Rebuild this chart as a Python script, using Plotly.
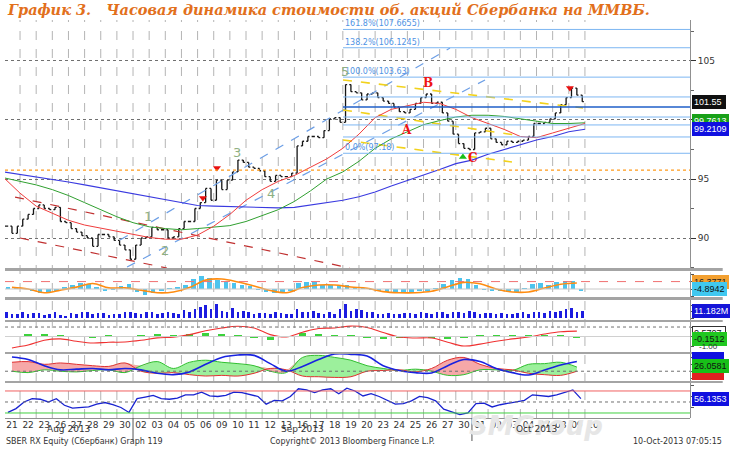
import numpy as np
import plotly.graph_objects as go
from plotly.subplots import make_subplots

# trading days shown on the time axis (hourly chart, SBER RX)
day_labels = ['21', '22', '23', '26', '27', '28', '29', '30',
              '02', '03', '04', '05', '06', '09', '10', '11', '12', '13',
              '16', '17', '18', '19', '20', '23', '24', '25', '26', '27', '30',
              '01', '02', '03', '04', '07', '08', '09', '10']
month_labels = ['Aug 2013', 'Sep 2013', 'Oct 2013']
month_first_day = [0, 8, 29]

# price, three readings per trading day
close = [
    91.0, 90.4, 91.0,  91.6, 92.0, 92.5,  92.8, 92.5, 92.4,  92.6, 91.4, 91.3,
    90.8, 90.5, 90.2,  90.0, 89.3, 90.3,  90.3, 90.1, 89.8,  89.4, 89.0, 88.2,
    89.4, 90.0, 90.1,  90.9, 90.7, 90.7,  90.0, 90.1, 90.8,  91.4, 91.4, 92.5,
    93.0, 94.2, 93.2,  94.9, 94.1, 94.9,  95.6, 96.6, 96.4,  96.0, 95.9, 95.7,
    95.2, 94.8, 95.3,  95.2, 95.2, 95.5,  97.8, 98.2, 98.6,  98.6, 98.5, 99.1,
    100.1, 100.2, 99.8,  103.0, 102.4, 102.3,  101.7, 102.2, 102.3,  101.9, 101.6, 101.4,
    101.1, 100.7, 100.6,  100.9, 101.4, 101.9,  102.2, 101.4, 101.5,  100.6, 99.9, 98.8,
    98.0, 97.6, 97.5,  98.9, 99.0, 99.3,  98.4, 98.1, 97.9,  98.2, 98.1, 98.2,
    98.3, 98.6, 99.7,  99.7, 99.8, 100.1,  100.6, 101.3, 101.9,  102.7, 102.1, 101.55,
]

# moving averages, one reading at each day boundary
ma_red = [95.1, 93.8, 92.7, 92.1, 91.5, 91.1, 90.85, 90.6, 90.3, 90.05, 89.9, 89.9,
          90.25, 91.0, 92.0, 93.2, 94.1, 94.8, 95.3, 96.0, 96.7, 97.6, 98.8, 100.2,
          100.9, 101.2, 101.5, 101.4, 100.9, 100.2, 99.7, 99.2, 98.6, 98.5, 98.9, 99.3, 99.7]
ma_green = [95.1, 94.8, 94.5, 94.1, 93.6, 93.0, 92.4, 91.8, 91.3, 90.95, 90.8, 90.7,
            90.8, 90.9, 91.05, 91.4, 91.9, 92.4, 93.1, 94.0, 95.0, 95.6, 96.5, 97.6,
            98.4, 99.0, 99.6, 99.95, 100.25, 100.4, 100.4, 100.3, 100.1, 99.85, 99.7, 99.7, 99.76]
ma_blue = [95.6, 95.4, 95.2, 95.0, 94.75, 94.5, 94.25, 94.0, 93.8, 93.5, 93.25, 93.0,
           92.75, 92.7, 92.65, 92.6, 92.6, 92.55, 92.6, 92.8, 93.0, 93.2, 93.5, 93.9,
           94.4, 94.85, 95.3, 95.8, 96.3, 96.6, 97.1, 97.5, 97.9, 98.3, 98.6, 99.0, 99.21]

# fibonacci levels and their captions
fib_levels = [107.67, 106.12, 103.63, 101.95, 101.10, 100.25, 99.58, 98.56, 97.18]
fib_captions = ['161.8%(107.6655)', '138.2%(106.1245)', '100.0%(103.63)', '', '', '', '', '', '0.0%(97.18)']
fib_start_day = 21.01
support_level = 95.76

# drawn trend lines: (day0, price0, day1, price1)
blue_channel = [(7.19, 89.83, 27.64, 106.1), (7.63, 87.54, 29.81, 103.39)]
red_channel = [(0.69, 93.47, 21.44, 87.46), (1.0, 90.0, 10.1, 87.46)]
yellow_lines = [(21.01, 103.39, 35.88, 101.02), (21.01, 100.85, 31.67, 98.73), (21.01, 98.31, 31.48, 96.44)]

wave_text = ['1', '2', '3', '4', '5']
wave_day = [8.94, 9.98, 14.42, 16.55, 21.13]
wave_price = [91.8, 88.98, 97.23, 93.73, 104.07]
abc_text = ['A', 'B', 'C']
abc_day = [24.97, 26.27, 29.06]
abc_price = [99.15, 103.14, 96.78]
sell_day = [12.33, 13.2, 35.07]
sell_price = [93.4, 95.93, 102.7]
buy_day = [28.44]
buy_price = [96.86]

# oscillator panel (two readings per day) and its signal line (one per day)
osc_hist = [4, 2, 2, -6, -10, -12, -4, 6, 12, 16, 14, 4, -4, -2, 8, 14, -8, -16, -10, -4,
            2, 4, 12, 26, 34, 30, 24, 20, 16, 12, 8, -2, -8, -11, -10, -4, 16, 20, 18, 12,
            10, 12, 10, 6, 2, -2, -4, -8, -10, -10, -8, -6, -4, 2, 14, 24, 30, 26, 12, -2,
            -6, -4, -8, -8, 2, 14, 16, 10, 18, 22, 22, -4.8942]
osc_line = [4.5, 0, -10, -3, 5, 15, 3, 3, -3, -10, -8, 4, 24, 27, 19, 8, -4, -10,
            4, 10.8, 10.8, 5.4, 2, -7, -10, -10, -6, 6, 18, 14, 0, -8, -8, 2.7, 13, 16.3771]

# volume, millions, three readings per day
volume = [10, 7, 6, 9, 6, 8, 8, 5, 7, 9, 5, 4, 8, 6, 9, 10, 7, 8, 8, 5, 7, 7, 9, 10,
          8, 6, 9, 9, 7, 8, 10, 8, 7, 13, 9, 15, 17, 21, 14, 23, 12, 10, 16, 9, 11, 9, 7, 8,
          8, 6, 9, 8, 6, 7, 14, 9, 10, 11, 8, 7, 9, 7, 15, 22, 12, 14, 13, 10, 9, 7, 6, 8,
          7, 6, 8, 8, 7, 9, 8, 7, 9, 9, 7, 10, 9, 8, 11, 9, 7, 8, 8, 6, 8, 7, 6, 8,
          9, 7, 10, 9, 8, 11, 10, 12, 14, 16, 10, 11.182]

# momentum panel, one reading per day
mom_line = [-1.2, -0.9, -0.4, -0.25, -0.5, -0.68, -0.6, -0.58, -0.4, -0.14, -0.06, 0.2,
            0.6, 0.9, 1.08, 0.9, 0.2, -0.05, 0.45, 0.85, 0.9, 1.1, 0.95, 0.42,
            -0.05, -0.16, -0.16, -0.6, -1.0, -0.8, -0.5, -0.25, -0.05, 0.26, 0.5, 0.5707]
mom_hist = [0, 0.3, 0.3, 0.1, -0.05, -0.1, 0.1, 0.05, 0.2, 0.25, 0.1, 0.25,
            0.35, 0.3, 0.15, -0.2, -0.35, 0.05, 0.35, 0.25, 0.1, 0.15, -0.1, -0.3,
            -0.2, 0.05, -0.1, -0.25, -0.15, 0.15, 0.1, 0.1, 0.15, 0.15, 0.1, -0.1512]

# directional movement panel, one reading per day
adx = [40.6, 37, 28, 22, 23, 24, 22, 24, 22, 17, 15, 19, 30, 40, 43.5, 43, 31, 20,
       27, 37, 45, 44.5, 42, 28, 21, 18, 17.5, 28, 37, 34, 24, 18, 14.5, 21.7, 29, 34]
di_plus = [20, 18, 22, 20, 19, 21, 22, 18, 28, 34, 24, 33, 36, 33, 31, 28, 20, 18,
           40, 43, 40, 36, 28, 24, 21, 23, 20, 14, 15, 22, 22, 21, 30, 31, 33, 26.0581]
di_minus = [33, 34, 30, 32, 30, 28, 27, 32, 20, 17, 18, 15, 13, 14, 13, 17, 24, 22,
            13, 12, 11, 12, 20, 21, 22, 19, 24, 36, 40, 30, 24, 22, 17, 15, 14, 20]

# RSI, two readings per day
rsi = [31, 38, 50, 56, 55, 50, 56, 44, 39, 40, 41, 46, 49, 45, 40, 31, 56, 59, 62, 56,
       55, 57, 63, 63, 68, 61, 60, 62, 68, 67, 64, 60, 46, 53, 52, 60, 74, 72, 67, 72,
       74, 65, 75, 70, 61, 65, 60, 53, 46, 47, 52, 60, 58, 52, 37, 32, 27, 30, 47, 48,
       41, 45, 48, 50, 53, 63, 62, 60, 63, 68, 72, 56.1353]

W, H = 730, 457
X0, X1 = 5 / W, 690 / W
XR = [0.068, 42.51]


def dom(top, bottom):
    return [1 - bottom / H, 1 - top / H]


doms = [dom(20, 268), dom(272, 297), dom(300, 320), dom(322, 352), dom(354, 381), dom(383, 418)]
ranges = [[87.46, 108.47], [-21.6, 45.9], [-3.2, 28.8], [-1.63, 1.53], [5.8, 45], [20.9, 84.5]]

n_days = len(day_labels)
price_x = np.arange(len(close)) / 3 + 1 / 6
open_ = [close[0]] + close[:-1]
high = np.maximum(open_, close)
low = np.minimum(open_, close)
ma_x = np.arange(len(ma_red))
half_x = np.arange(len(rsi)) / 2 + 0.25
day_x = np.arange(len(osc_line)) + 0.5
vol_x = np.arange(len(volume)) / 3 + 1 / 6

fig = make_subplots(rows=6, cols=1, shared_xaxes=True, vertical_spacing=0.01)

# ---- main panel
for d0, p0, d1, p1 in blue_channel:
    fig.add_trace(go.Scatter(x=[d0, d1], y=[p0, p1], mode='lines',
                             line=dict(color='#6d9fe6', width=1.2, dash='dash')), row=1, col=1)
for d0, p0, d1, p1 in red_channel:
    fig.add_trace(go.Scatter(x=[d0, d1], y=[p0, p1], mode='lines',
                             line=dict(color='#c03030', width=1.2, dash='dash')), row=1, col=1)
for d0, p0, d1, p1 in yellow_lines:
    fig.add_trace(go.Scatter(x=[d0, d1], y=[p0, p1], mode='lines',
                             line=dict(color='#f2d21c', width=1.6, dash='dash')), row=1, col=1)

fig.add_trace(go.Scatter(x=ma_x, y=ma_blue, mode='lines', line=dict(color='#3a3ae0', width=1.1)), row=1, col=1)
fig.add_trace(go.Scatter(x=ma_x, y=ma_green, mode='lines', line=dict(color='#30a030', width=1)), row=1, col=1)
fig.add_trace(go.Scatter(x=ma_x, y=ma_red, mode='lines', line=dict(color='#f03c3c', width=1)), row=1, col=1)

fig.add_trace(go.Ohlc(x=price_x, open=open_, high=high, low=low, close=close,
                      increasing_line_color='#151515', decreasing_line_color='#151515',
                      line_width=1.3, tickwidth=0.3, hoverinfo='skip'), row=1, col=1)

fig.add_trace(go.Scatter(x=sell_day, y=sell_price, mode='markers',
                         marker=dict(symbol='triangle-down', color='#e81010', size=7)), row=1, col=1)
fig.add_trace(go.Scatter(x=buy_day, y=buy_price, mode='markers',
                         marker=dict(symbol='triangle-up', color='#18c018', size=7)), row=1, col=1)

# ---- oscillator panel
fig.add_trace(go.Bar(x=half_x, y=osc_hist, width=0.28, marker_color='#4cc4ee', marker_line_width=0), row=2, col=1)
fig.add_trace(go.Scatter(x=day_x, y=osc_line, mode='lines', line=dict(color='#ff8c10', width=1.6, shape='spline')), row=2, col=1)

# ---- volume
fig.add_trace(go.Bar(x=vol_x, y=volume, width=0.16, marker_color='#1c1ce0', marker_line_width=0), row=3, col=1)

# ---- momentum
fig.add_trace(go.Bar(x=day_x, y=mom_hist, width=0.45, marker_color='#3cd23c', marker_line_width=0), row=4, col=1)
fig.add_trace(go.Scatter(x=day_x, y=mom_line, mode='lines', line=dict(color='#f03030', width=1.1, shape='spline')), row=4, col=1)

# ---- directional movement with filled spread
di_top = np.maximum(di_plus, di_minus)
fig.add_trace(go.Scatter(x=day_x, y=di_minus, mode='lines', line=dict(width=0, shape='spline')), row=5, col=1)
fig.add_trace(go.Scatter(x=day_x, y=di_top, mode='lines', fill='tonexty', fillcolor='#9cf09c',
                         line=dict(width=0, shape='spline')), row=5, col=1)
fig.add_trace(go.Scatter(x=day_x, y=di_plus, mode='lines', line=dict(width=0, shape='spline')), row=5, col=1)
fig.add_trace(go.Scatter(x=day_x, y=di_top, mode='lines', fill='tonexty', fillcolor='#f6a8a8',
                         line=dict(width=0, shape='spline')), row=5, col=1)
fig.add_trace(go.Scatter(x=day_x, y=di_plus, mode='lines', line=dict(color='#30c030', width=1, shape='spline')), row=5, col=1)
fig.add_trace(go.Scatter(x=day_x, y=di_minus, mode='lines', line=dict(color='#e03030', width=1, shape='spline')), row=5, col=1)
fig.add_trace(go.Scatter(x=day_x, y=adx, mode='lines', line=dict(color='#1822e0', width=1.6, shape='spline')), row=5, col=1)

# ---- RSI
fig.add_trace(go.Scatter(x=half_x, y=rsi, mode='lines', line=dict(color='#1822d0', width=1.3)), row=6, col=1)

fig.update_layout(width=W, height=H, margin=dict(l=0, r=0, t=0, b=0),
                  paper_bgcolor='white', plot_bgcolor='white', showlegend=False, bargap=0)

for i in range(1, 7):
    fig.update_layout(**{
        ('xaxis' if i == 1 else 'xaxis%d' % i): dict(
            domain=[X0, X1], range=XR, showgrid=False, zeroline=False,
            showticklabels=False, ticks='', rangeslider=dict(visible=False)),
        ('yaxis' if i == 1 else 'yaxis%d' % i): dict(
            domain=doms[i - 1], range=ranges[i - 1], side='right', showgrid=False,
            zeroline=False, showticklabels=False, showline=True, linecolor='#909090',
            linewidth=1, ticks='outside', ticklen=3, tickcolor='#555', nticks=4),
    })

fig.update_layout(
    xaxis6=dict(tickmode='array', tickvals=np.arange(n_days) + 0.5, ticktext=day_labels,
                showticklabels=True, tickfont=dict(family='DejaVu Sans', size=9, color='#333')),
    yaxis=dict(tickmode='array', tickvals=[90, 95, 100, 105], ticktext=['90', '95', '', '105'],
               showticklabels=True, showgrid=True, gridcolor='#707070', griddash='dot',
               ticks='outside', ticklen=5, tickcolor='#333',
               tickfont=dict(family='DejaVu Sans', size=9, color='#333'),
               minor=dict(dtick=2.5, ticks='outside', ticklen=3, tickcolor='#666', showgrid=False)),
)

shapes = []
# vertical day separators
for k in range(1, n_days):
    shapes.append(dict(type='line', xref='x', yref='paper', x0=k, x1=k, y0=doms[5][0], y1=doms[0][1],
                       line=dict(color='#b4b4b4', width=1, dash='dash'), layer='below'))
# fibonacci levels
for i, lv in enumerate(fib_levels):
    shapes.append(dict(type='line', xref='x', yref='y', x0=fib_start_day, x1=XR[1], y0=lv, y1=lv,
                       line=dict(color='#1f5fc8' if i == 4 else '#7db6f2', width=1.4 if i == 4 else 1)))
# support line
shapes.append(dict(type='line', xref='paper', yref='y', x0=X0, x1=X1, y0=support_level, y1=support_level,
                   line=dict(color='#ff9a1a', width=1.3, dash='dot')))
# oscillator / momentum / dmi / rsi reference lines
ref_lines = [('y2', 20, '#f07070', 'dash'), ('y2', 0, '#c8c8c8', 'solid'),
             ('y4', 1.0, '#707070', 'dot'), ('y4', 0, '#d0d0d0', 'solid'),
             ('y5', 20, '#707070', 'dot'),
             ('y6', 70, '#f06060', 'solid'), ('y6', 50, '#707070', 'dot'), ('y6', 30, '#40d040', 'solid')]
for yref, lv, col, dash in ref_lines:
    shapes.append(dict(type='line', xref='paper', yref=yref, x0=X0, x1=X1, y0=lv, y1=lv,
                       line=dict(color=col, width=1, dash=dash)))
# grey panel separators
for top, bottom in [(268, 271), (297, 300), (320, 322), (352, 354), (381, 383)]:
    shapes.append(dict(type='rect', xref='paper', yref='paper', x0=X0, x1=0.99,
                       y0=1 - bottom / H, y1=1 - top / H, fillcolor='#a4a4a4', line_width=0))
shapes.append(dict(type='line', xref='paper', yref='paper', x0=X0, x1=X1, y0=1 - 418.5 / H, y1=1 - 418.5 / H,
                   line=dict(color='#909090', width=1)))
# month separators under the axis
for d in month_first_day[1:]:
    shapes.append(dict(type='line', xref='x', yref='paper', x0=d, x1=d, y0=1 - 441 / H, y1=1 - 418 / H,
                       line=dict(color='#555', width=1)))
fig.update_layout(shapes=shapes)

ann = []
# watermark first so everything else sits on top of it
ann.append(dict(xref='paper', yref='paper', x=605 / W, y=1 - 443 / H, text='<b><i>SMGroup</i></b>',
                showarrow=False, font=dict(family='DejaVu Sans', size=26, color='#e6e6e6')))
ann.append(dict(xref='paper', yref='paper', x=5 / W, y=1 - 10 / H, xanchor='left', yanchor='middle',
                text='<b><i>График 3.\u00a0\u00a0\u00a0Часовая динамика стоимости об. акций Сбербанка на ММВБ.</i></b>',
                showarrow=False, font=dict(family='DejaVu Serif', size=14.5, color='#e2701c')))
for cap, lv in zip(fib_captions, fib_levels):
    if cap:
        ann.append(dict(xref='x', yref='y', x=fib_start_day, y=lv, xanchor='left', yanchor='bottom',
                        text=cap, showarrow=False, yshift=-1,
                        font=dict(family='DejaVu Sans', size=8, color='#4f93e4')))
for t, d, p in zip(wave_text, wave_day, wave_price):
    ann.append(dict(xref='x', yref='y', x=d, y=p, text=t, showarrow=False,
                    font=dict(family='DejaVu Sans', size=13, color='#8fb082')))
for t, d, p in zip(abc_text, abc_day, abc_price):
    ann.append(dict(xref='x', yref='y', x=d, y=p, text='<b>%s</b>' % t, showarrow=False,
                    font=dict(family='DejaVu Serif', size=12, color='#ee1414')))


def box(text, y, yref, bg, fg='white', border=None):
    ann.append(dict(xref='paper', yref=yref, x=692 / W, y=y, xanchor='left', yanchor='middle',
                    text=text, showarrow=False, bgcolor=bg, bordercolor=border or bg, borderwidth=1,
                    borderpad=1, font=dict(family='Liberation Sans', size=9, color=fg)))


box('101.55\u00a0', close[-1], 'y', '#101010')
box('99.7613', 99.9, 'y', '#18a018')
box('99.2109', ma_blue[-1], 'y', '#1010e0')
box('16.3771', 19, 'y2', '#f3a030', '#222')
box('-4.8942', 0.5, 'y2', '#40c8f0', '#111')
box('11.182M', volume[-1], 'y3', '#1414d8')
box('0.5707\u00a0', 0.42, 'y4', 'white', '#111', '#333')
box('-0.1512', -0.25, 'y4', '#20c820', '#111')
ann.append(dict(xref='paper', yref='y4', x=697 / W, y=-1.0, xanchor='left', yanchor='middle', text='-1.00',
                showarrow=False, font=dict(family='Liberation Sans', size=8, color='#333')))
box('\u00a0\u00a0\u00a0\u00a0\u00a0\u00a0\u00a0\u00a0\u00a0\u00a0\u00a0', 18, 'y5', '#e02020')
box('\u00a0\u00a0\u00a0\u00a0\u00a0\u00a0\u00a0\u00a0\u00a0\u00a0\u00a0', 38, 'y5', '#1010e0')
box('26.0581', 28, 'y5', '#18c018', '#111')
box('56.1353', rsi[-1], 'y6', '#1010e0')

bounds = month_first_day + [n_days]
for i, m in enumerate(month_labels):
    ann.append(dict(xref='x', yref='paper', x=(bounds[i] + bounds[i + 1]) / 2, y=1 - 436 / H,
                    text=m, showarrow=False, font=dict(family='DejaVu Sans', size=9, color='#333')))

ann.append(dict(xref='paper', yref='paper', x=4 / W, y=1 - 448 / H, xanchor='left',
                text='SBER RX Equity (Сбербанк) Graph 119', showarrow=False,
                font=dict(family='DejaVu Sans', size=8, color='#333')))
ann.append(dict(xref='paper', yref='paper', x=268 / W, y=1 - 448 / H, xanchor='left',
                text='Copyright© 2013 Bloomberg Finance L.P.', showarrow=False,
                font=dict(family='DejaVu Sans', size=8, color='#333')))
ann.append(dict(xref='paper', yref='paper', x=724 / W, y=1 - 448 / H, xanchor='right',
                text='10-Oct-2013 07:05:15', showarrow=False,
                font=dict(family='DejaVu Sans', size=8, color='#333')))
fig.update_layout(annotations=ann)

fig.write_html('out.html', config={'displayModeBar': False},
               post_script="document.body.style.margin='0';document.body.style.padding='0';")
